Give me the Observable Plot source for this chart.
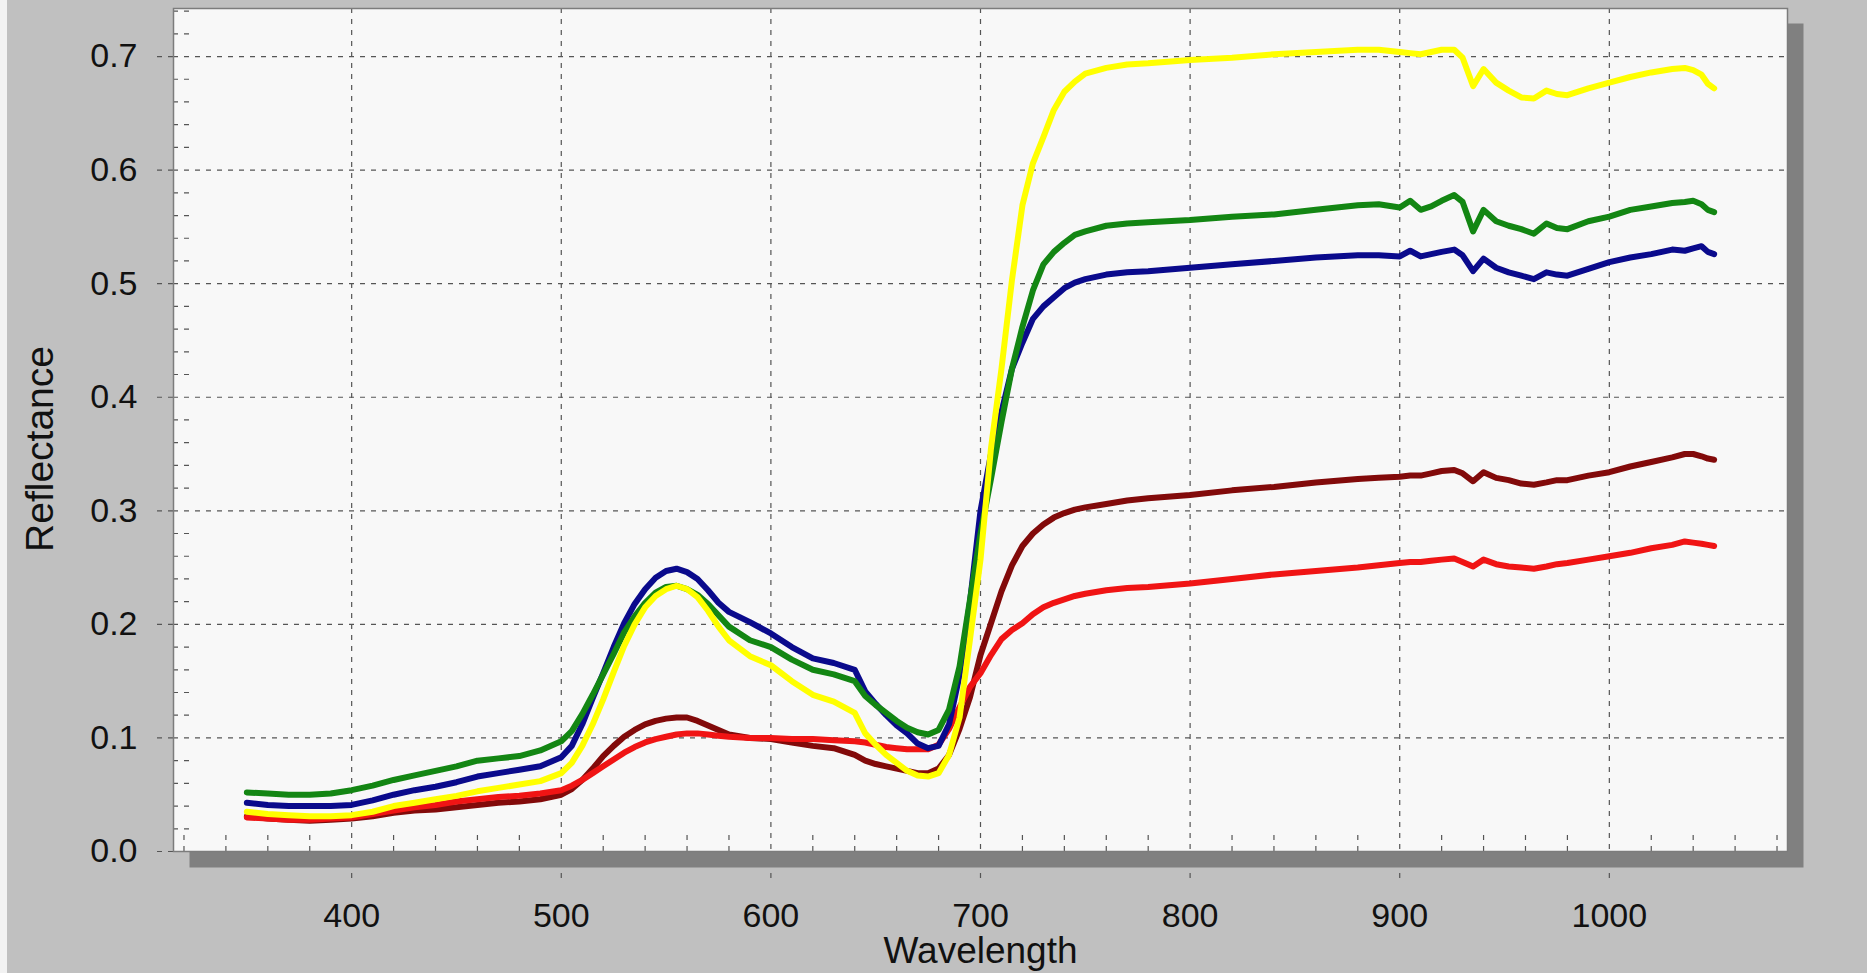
<!DOCTYPE html>
<html>
<head>
<meta charset="utf-8">
<script src="https://cdn.jsdelivr.net/npm/d3@7"></script>
<script src="https://cdn.jsdelivr.net/npm/@observablehq/plot@0.6"></script>
<style>
  html, body { margin: 0; padding: 0; background: #c0c0c0; }
  #chart svg { display: block; }
</style>
</head>
<body>
<div id="chart"></div>
<script>
// Wavelength samples (nm) shared by every spectrum
const wavelength = [
  350, 360, 370, 380, 390, 400, 410, 420, 430, 440, 450, 460, 470, 480, 490,
  500, 505, 510, 515, 520, 525, 530, 535, 540, 545, 550, 555, 560, 565, 570,
  575, 580, 590, 600, 610, 620, 630, 640, 645, 650, 655, 660, 665, 670, 675,
  680, 685, 690, 695, 700, 705, 710, 715, 720, 725, 730, 735, 740, 745, 750,
  760, 770, 780, 800, 820, 840, 860, 880, 890, 900, 905, 910, 915, 920, 926,
  930, 935, 940, 946, 952, 958, 964, 970, 975, 980, 990, 1000, 1010, 1020, 1030,
  1036, 1040, 1044, 1047, 1050
];

// Reflectance spectra
const greenSpectrum = [
  0.052, 0.051, 0.050, 0.050, 0.051, 0.054, 0.058, 0.063, 0.067, 0.071, 0.075, 0.080, 0.082, 0.084, 0.089,
  0.097, 0.106, 0.121, 0.138, 0.156, 0.174, 0.193, 0.207, 0.219, 0.228, 0.233, 0.234, 0.231, 0.226, 0.218,
  0.208, 0.198, 0.186, 0.180, 0.169, 0.160, 0.156, 0.150, 0.137, 0.129, 0.122, 0.115, 0.109, 0.105, 0.103,
  0.107, 0.125, 0.163, 0.222, 0.280, 0.328, 0.378, 0.425, 0.462, 0.494, 0.517, 0.528, 0.536, 0.543, 0.546,
  0.551, 0.553, 0.554, 0.556, 0.559, 0.561, 0.565, 0.569, 0.570, 0.567, 0.573, 0.565, 0.568, 0.573, 0.578,
  0.572, 0.546, 0.565, 0.555, 0.551, 0.548, 0.544, 0.553, 0.549, 0.548, 0.555, 0.559, 0.565, 0.568, 0.571,
  0.572, 0.573, 0.570, 0.565, 0.563
];
const blueSpectrum = [
  0.043, 0.041, 0.040, 0.040, 0.040, 0.041, 0.045, 0.050, 0.054, 0.057, 0.061, 0.066, 0.069, 0.072, 0.075,
  0.083, 0.093, 0.112, 0.135, 0.157, 0.180, 0.201, 0.218, 0.231, 0.241, 0.247, 0.249, 0.246, 0.240, 0.230,
  0.219, 0.211, 0.202, 0.192, 0.180, 0.170, 0.166, 0.160, 0.141, 0.130, 0.120, 0.111, 0.104, 0.095, 0.091,
  0.093, 0.112, 0.155, 0.220, 0.300, 0.350, 0.387, 0.425, 0.448, 0.469, 0.480, 0.488, 0.496, 0.501, 0.504,
  0.508, 0.510, 0.511, 0.514, 0.517, 0.520, 0.523, 0.525, 0.525, 0.524, 0.529, 0.524, 0.526, 0.528, 0.530,
  0.525, 0.511, 0.522, 0.514, 0.510, 0.507, 0.504, 0.510, 0.508, 0.507, 0.513, 0.519, 0.523, 0.526, 0.530,
  0.529, 0.531, 0.533, 0.528, 0.526
];
const yellowSpectrum = [
  0.035, 0.033, 0.032, 0.031, 0.031, 0.032, 0.035, 0.040, 0.043, 0.046, 0.049, 0.053, 0.056, 0.059, 0.062,
  0.069, 0.078, 0.093, 0.112, 0.134, 0.158, 0.181, 0.200, 0.215, 0.225, 0.231, 0.234, 0.231, 0.224, 0.212,
  0.198, 0.186, 0.172, 0.164, 0.150, 0.138, 0.132, 0.122, 0.104, 0.094, 0.085, 0.078, 0.071, 0.067, 0.066,
  0.069, 0.085, 0.118, 0.187, 0.257, 0.355, 0.425, 0.503, 0.569, 0.606, 0.629, 0.653, 0.669, 0.678, 0.685,
  0.690, 0.693, 0.694, 0.697, 0.699, 0.702, 0.704, 0.706, 0.706, 0.704, 0.703, 0.702, 0.704, 0.706, 0.706,
  0.699, 0.674, 0.689, 0.677, 0.670, 0.664, 0.663, 0.670, 0.667, 0.666, 0.672, 0.677, 0.682, 0.686, 0.689,
  0.690, 0.688, 0.684, 0.676, 0.672
];
const darkRedSpectrum = [
  0.031, 0.029, 0.028, 0.027, 0.028, 0.029, 0.031, 0.034, 0.036, 0.037, 0.039, 0.041, 0.043, 0.044, 0.046,
  0.050, 0.055, 0.063, 0.073, 0.084, 0.093, 0.101, 0.107, 0.112, 0.115, 0.117, 0.118, 0.118, 0.115, 0.111,
  0.107, 0.103, 0.100, 0.099, 0.096, 0.093, 0.091, 0.085, 0.080, 0.077, 0.075, 0.073, 0.071, 0.069, 0.069,
  0.073, 0.085, 0.108, 0.136, 0.173, 0.201, 0.229, 0.252, 0.269, 0.280, 0.288, 0.294, 0.298, 0.301, 0.303,
  0.306, 0.309, 0.311, 0.314, 0.318, 0.321, 0.325, 0.328, 0.329, 0.330, 0.331, 0.331, 0.333, 0.335, 0.336,
  0.333, 0.326, 0.334, 0.329, 0.327, 0.324, 0.323, 0.325, 0.327, 0.327, 0.331, 0.334, 0.339, 0.343, 0.347,
  0.350, 0.350, 0.348, 0.346, 0.345
];
const redSpectrum = [
  0.030, 0.029, 0.028, 0.028, 0.029, 0.030, 0.033, 0.036, 0.039, 0.041, 0.044, 0.046, 0.048, 0.049, 0.051,
  0.054, 0.058, 0.063, 0.069, 0.075, 0.081, 0.087, 0.092, 0.096, 0.099, 0.101, 0.103, 0.104, 0.104, 0.103,
  0.102, 0.101, 0.100, 0.100, 0.099, 0.099, 0.098, 0.097, 0.096, 0.094, 0.092, 0.091, 0.090, 0.090, 0.090,
  0.094, 0.108, 0.127, 0.145, 0.157, 0.173, 0.187, 0.195, 0.201, 0.209, 0.215, 0.219, 0.222, 0.225, 0.227,
  0.230, 0.232, 0.233, 0.236, 0.240, 0.244, 0.247, 0.250, 0.252, 0.254, 0.255, 0.255, 0.256, 0.257, 0.258,
  0.255, 0.251, 0.257, 0.253, 0.251, 0.250, 0.249, 0.251, 0.253, 0.254, 0.257, 0.260, 0.263, 0.267, 0.270,
  0.273, 0.272, 0.271, 0.270, 0.269
];

// Axis ticks
const xMajorTicks = [400, 500, 600, 700, 800, 900, 1000];
const xMinorTicks = [320, 340, 360, 380, 420, 440, 460, 480, 520, 540, 560, 580, 620, 640, 660, 680,
  720, 740, 760, 780, 820, 840, 860, 880, 920, 940, 960, 980, 1020, 1040, 1060, 1080];
const yMajorTicks = [0, 0.1, 0.2, 0.3, 0.4, 0.5, 0.6, 0.7];
const yMinorTicks = [0.02, 0.04, 0.06, 0.08, 0.12, 0.14, 0.16, 0.18, 0.22, 0.24, 0.26, 0.28,
  0.32, 0.34, 0.36, 0.38, 0.42, 0.44, 0.46, 0.48, 0.52, 0.54, 0.56, 0.58, 0.62, 0.64, 0.66, 0.68, 0.72, 0.74];

// Draw order: later spectra sit on top
const spectra = [
  {name: "dark red", color: "#820a0a", values: darkRedSpectrum},
  {name: "red", color: "#f01414", values: redSpectrum},
  {name: "blue", color: "#0a0a8c", values: blueSpectrum},
  {name: "green", color: "#138613", values: greenSpectrum},
  {name: "yellow", color: "#ffff00", values: yellowSpectrum}
];

const gridStyle = {stroke: "#555", strokeOpacity: 1, strokeWidth: 1.2, strokeDasharray: "5,6"};

const chart = Plot.plot({
  width: 1867,
  height: 973,
  marginLeft: 173,
  marginRight: 80,
  marginTop: 8,
  marginBottom: 122,
  style: {
    background: "linear-gradient(to right, #f2f2f2 0 7px, #c0c0c0 7px)",
    fontFamily: "'Liberation Sans', Arial, sans-serif",
    color: "#111",
    overflow: "visible"
  },
  x: {domain: [315, 1085], label: null},
  y: {domain: [0, 0.7423], label: null},
  marks: [
    // outer x ticks, partly hidden by the drop shadow
    Plot.axisX(xMajorTicks, {anchor: "bottom", tickSize: 31, fill: "none", ...gridStyle}),
    // drop shadow of the plotting panel
    Plot.frame({fill: "#808080", insetLeft: 16, insetTop: 15, insetRight: -16, insetBottom: -16}),
    Plot.frame({fill: "#f8f8f8"}),
    Plot.gridX(xMajorTicks, gridStyle),
    Plot.gridY(yMajorTicks, gridStyle),
    Plot.axisY(yMajorTicks, {anchor: "left", tickSize: 16, fill: "none", ...gridStyle}),
    // inner minor ticks
    Plot.axisX(xMinorTicks, {anchor: "bottom", tickSize: -21, fill: "none", ...gridStyle}),
    Plot.axisY(yMinorTicks, {anchor: "left", tickSize: -17, fill: "none", ...gridStyle}),
    // tick labels
    Plot.axisX(xMajorTicks, {anchor: "bottom", tickSize: 0, tickPadding: 51, fontSize: 34, stroke: "none",
      tickFormat: d3.format("d"), label: null}),
    Plot.axisY(yMajorTicks, {anchor: "left", tickSize: 0, tickPadding: 36, fontSize: 34, stroke: "none",
      tickFormat: d3.format(".1f"), label: null}),
    // axis titles
    Plot.text(["Wavelength"], {text: d => d, frameAnchor: "bottom", lineAnchor: "middle", textAnchor: "middle",
      dy: 100, fontSize: 37, fill: "#111"}),
    Plot.text(["Reflectance"], {text: d => d, frameAnchor: "left", lineAnchor: "middle", textAnchor: "middle",
      rotate: -90, dx: -133, dy: 19, fontSize: 39, fill: "#111"}),
    // spectra
    ...spectra.map(s => Plot.line(wavelength.map((w, i) => ({w, r: s.values[i]})), {
      x: "w", y: "r", stroke: s.color, strokeWidth: 6, strokeLinejoin: "round", strokeLinecap: "round"
    })),
    Plot.frame({stroke: "#7c7c7c", strokeWidth: 1.5})
  ]
});

document.getElementById("chart").appendChild(chart);
</script>
</body>
</html>
